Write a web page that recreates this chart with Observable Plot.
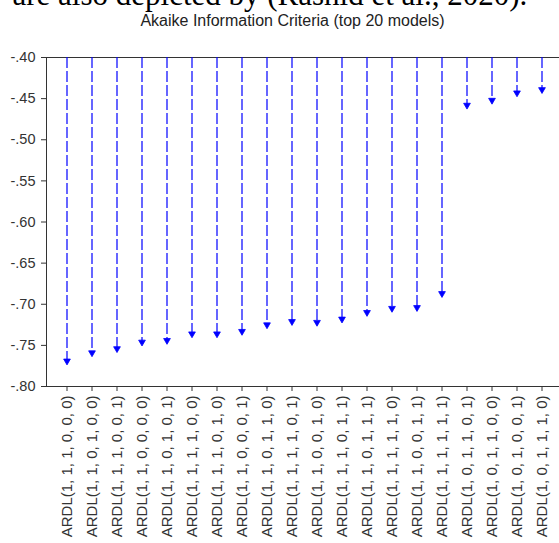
<!DOCTYPE html>
<html>
<head>
<meta charset="utf-8">
<script src="https://cdn.jsdelivr.net/npm/d3@7"></script>
<script src="https://cdn.jsdelivr.net/npm/@observablehq/plot@0.6"></script>
<style>
  html, body { margin: 0; padding: 0; background: #fff; overflow: hidden; }
</style>
</head>
<body>
<div id="chart"></div>
<script>
const headerText = "are also depicted by (Rashid et al., 2020).";
const title = "Akaike Information Criteria (top 20 models)";
const models = [
  "ARDL(1, 1, 1, 0, 0, 0)", "ARDL(1, 1, 0, 1, 0, 0)", "ARDL(1, 1, 1, 0, 0, 1)",
  "ARDL(1, 1, 0, 0, 0, 0)", "ARDL(1, 1, 0, 1, 0, 1)", "ARDL(1, 1, 1, 1, 0, 0)",
  "ARDL(1, 1, 1, 0, 1, 0)", "ARDL(1, 1, 0, 0, 0, 1)", "ARDL(1, 1, 0, 1, 1, 0)",
  "ARDL(1, 1, 1, 1, 0, 1)", "ARDL(1, 1, 0, 0, 1, 0)", "ARDL(1, 1, 1, 0, 1, 1)",
  "ARDL(1, 1, 0, 1, 1, 1)", "ARDL(1, 1, 1, 1, 1, 0)", "ARDL(1, 1, 0, 0, 1, 1)",
  "ARDL(1, 1, 1, 1, 1, 1)", "ARDL(1, 0, 1, 1, 0, 1)", "ARDL(1, 0, 1, 1, 0, 0)",
  "ARDL(1, 0, 1, 0, 0, 1)", "ARDL(1, 0, 1, 1, 1, 0)"
];
const aic = [
  -0.769, -0.759, -0.754, -0.746, -0.744, -0.736, -0.736, -0.733, -0.725, -0.721,
  -0.722, -0.718, -0.710, -0.705, -0.704, -0.687, -0.458, -0.452, -0.443, -0.439
];
const yTicks = [-0.80, -0.75, -0.70, -0.65, -0.60, -0.55, -0.50, -0.45, -0.40];
const yDomain = [-0.80, -0.40];

const data = models.map((m, i) => ({model: m, aic: aic[i]}));
const fmt = d => d.toFixed(2).replace("0.", ".");
const sans = "'Liberation Sans', Arial, sans-serif";

const chart = Plot.plot({
  width: 559,
  height: 543,
  marginLeft: 46,
  marginRight: 0,
  marginTop: 57,
  marginBottom: 157,
  style: {fontFamily: sans, background: "#fff"},
  x: {type: "band", domain: models, range: [46, 562], padding: 0},
  y: {domain: yDomain},
  marks: [
    Plot.frame({anchor: "top", stroke: "#333"}),
    Plot.frame({anchor: "bottom", stroke: "#333"}),
    Plot.frame({anchor: "left", stroke: "#333"}),
    Plot.axisY({ticks: yTicks, tickFormat: fmt, tickSize: 5, tickPadding: 6,
      fontSize: 14.5, fill: "#333", stroke: "#333", label: null}),
    Plot.axisX({tickSize: 5, tickPadding: 4, tickRotate: -90, fontSize: 15,
      fill: "#333", stroke: "#333", label: null, tickFormat: d => d}),
    Plot.ruleX(data, {x: "model", y1: () => yDomain[1], y2: "aic",
      stroke: "#0000ff", strokeWidth: 1.2, strokeDasharray: "11,3"}),
    Plot.dot(data, {x: "model", y: "aic", symbol: "triangle", rotate: 180,
      r: 2.5, fill: "#0000ff", stroke: "#0000ff", strokeWidth: 0.8}),
    Plot.text([title], {frameAnchor: "top-left", dx: 246, dy: -37,
      lineAnchor: "middle", textAnchor: "middle", fontSize: 16, fill: "#222"}),
    Plot.text([headerText], {frameAnchor: "top-left", dx: -34, dy: -62,
      lineAnchor: "middle", textAnchor: "start", fontSize: 31, fill: "#000",
      fontFamily: "'Liberation Serif', 'Times New Roman', serif"})
  ]
});
document.getElementById("chart").appendChild(chart);
</script>
</body>
</html>
